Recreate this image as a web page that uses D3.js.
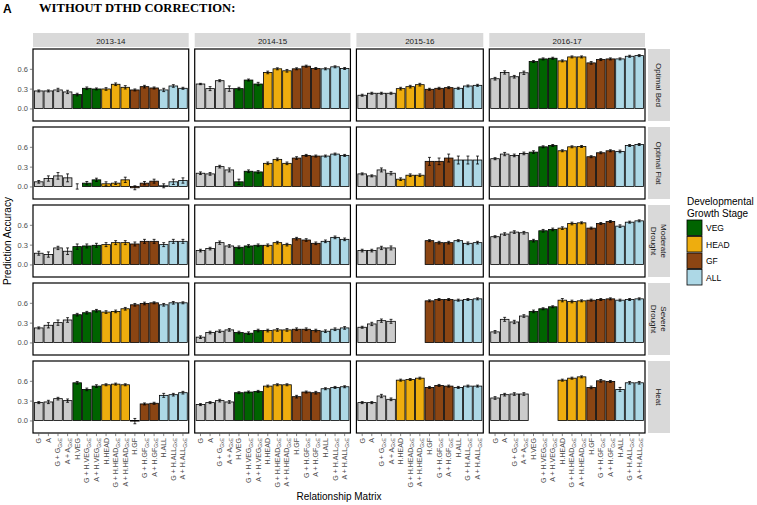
<!DOCTYPE html>
<html><head><meta charset="utf-8">
<script src="https://cdn.jsdelivr.net/npm/d3@7"></script>
<style>body{margin:0;background:#fff} svg{display:block}</style>
</head><body><svg id="c" width="757" height="505"></svg>
<script>
const years = ["2013-14", "2014-15", "2015-16", "2016-17"];
const environments = ["Optimal Bed", "Optimal Flat", "Moderate Drought", "Severe Drought", "Heat"];
const categories = ["G", "A", "G+G", "A+A", "H.VEG", "G+H.VEG", "A+H.VEG", "H.HEAD", "G+H.HEAD", "A+H.HEAD",
  "H.GF", "G+H.GF", "A+H.GF", "H.ALL", "G+H.ALL", "A+H.ALL"];
const labelBase = ["G", "A", "G + G", "A + A", "H.VEG", "G + H.VEG", "A + H.VEG", "H.HEAD", "G + H.HEAD", "A + H.HEAD",
  "H.GF", "G + H.GF", "A + H.GF", "H.ALL", "G + H.ALL", "A + H.ALL"];
const labelSub = ["", "", "GxE", "GxE", "", "GxE", "GxE", "", "GxE", "GxE", "", "GxE", "GxE", "", "GxE", "GxE"];
const catStage = ["BASE", "BASE", "BASE", "BASE", "VEG", "VEG", "VEG", "HEAD", "HEAD", "HEAD", "GF", "GF", "GF", "ALL", "ALL", "ALL"];
const legendStages = ["VEG", "HEAD", "GF", "ALL"];
const stageColors = ["#cccccc", "#006400", "#eead0e", "#8b4513", "#add8e6"];
const stageKeys = ["BASE", "VEG", "HEAD", "GF", "ALL"];
const yTicks = [0.0, 0.3, 0.6];

// Prediction accuracy, one row per year (categories in order above); null = no bar
const bedVals = [
  [0.265, 0.265, 0.28, 0.25, 0.21, 0.305, 0.295, 0.295, 0.366, 0.32, 0.28, 0.33, 0.31, 0.28, 0.34, 0.305],
  [0.37, 0.30, 0.42, 0.30, 0.30, 0.43, 0.37, 0.545, 0.60, 0.57, 0.60, 0.64, 0.605, 0.60, 0.63, 0.605],
  [0.20, 0.23, 0.23, 0.23, null, null, null, 0.30, 0.33, 0.36, 0.29, 0.305, 0.315, 0.305, 0.34, 0.35],
  [0.45, 0.545, 0.48, 0.54, 0.71, 0.75, 0.76, 0.72, 0.78, 0.78, 0.69, 0.74, 0.75, 0.75, 0.79, 0.80]
];
const flatVals = [
  [0.07, 0.12, 0.16, 0.13, 0.0, 0.05, 0.10, 0.04, 0.05, 0.10, -0.02, 0.05, 0.08, 0.01, 0.07, 0.09],
  [0.20, 0.19, 0.30, 0.25, 0.07, 0.23, 0.22, 0.35, 0.41, 0.35, 0.43, 0.47, 0.46, 0.46, 0.49, 0.47],
  [0.19, 0.16, 0.25, 0.20, null, null, null, 0.11, 0.17, 0.17, 0.38, 0.38, 0.43, 0.40, 0.40, 0.40],
  [0.42, 0.49, 0.47, 0.50, 0.52, 0.60, 0.62, 0.54, 0.60, 0.605, 0.45, 0.51, 0.54, 0.53, 0.62, 0.635]
];
const modVals = [
  [0.17, 0.15, 0.25, 0.20, 0.27, 0.28, 0.29, 0.30, 0.33, 0.33, 0.31, 0.35, 0.35, 0.30, 0.35, 0.35],
  [0.21, 0.24, 0.33, 0.28, 0.26, 0.28, 0.29, 0.29, 0.33, 0.30, 0.39, 0.37, 0.32, 0.35, 0.41, 0.38],
  [0.21, 0.21, 0.25, 0.25, null, null, null, null, null, null, 0.36, 0.33, 0.33, 0.36, 0.32, 0.33],
  [0.42, 0.46, 0.49, 0.48, 0.36, 0.51, 0.53, 0.55, 0.62, 0.63, 0.55, 0.62, 0.65, 0.58, 0.64, 0.66]
];
const sevVals = [
  [0.22, 0.26, 0.30, 0.34, 0.42, 0.45, 0.48, 0.46, 0.47, 0.51, 0.57, 0.59, 0.60, 0.57, 0.60, 0.60],
  [0.08, 0.15, 0.17, 0.19, 0.15, 0.14, 0.18, 0.18, 0.19, 0.19, 0.20, 0.20, 0.18, 0.17, 0.20, 0.22],
  [0.23, 0.28, 0.33, 0.32, null, null, null, null, null, null, 0.63, 0.65, 0.65, 0.64, 0.65, 0.66],
  [0.16, 0.35, 0.31, 0.40, 0.47, 0.51, 0.54, 0.64, 0.62, 0.63, 0.64, 0.65, 0.66, 0.64, 0.65, 0.66]
];
const heatVals = [
  [0.27, 0.28, 0.33, 0.30, 0.57, 0.47, 0.52, 0.54, 0.55, 0.54, -0.01, 0.25, 0.26, 0.38, 0.39, 0.42],
  [0.24, 0.27, 0.30, 0.28, 0.42, 0.43, 0.44, 0.52, 0.54, 0.54, 0.36, 0.43, 0.42, 0.48, 0.50, 0.51],
  [0.27, 0.27, 0.37, 0.32, null, null, null, 0.61, 0.62, 0.64, 0.50, 0.53, 0.52, 0.50, 0.52, 0.52],
  [0.34, 0.39, 0.40, 0.40, null, null, null, 0.61, 0.64, 0.66, 0.50, 0.60, 0.59, 0.47, 0.57, 0.57]
];
// standard errors
const bedErr = [
  [0.015, 0.015, 0.025, 0.025, 0.02, 0.02, 0.015, 0.02, 0.02, 0.025, 0.015, 0.02, 0.015, 0.025, 0.02, 0.015],
  [0.01, 0.03, 0.015, 0.04, 0.02, 0.015, 0.025, 0.02, 0.015, 0.02, 0.015, 0.015, 0.015, 0.015, 0.015, 0.015],
  [0.015, 0.015, 0.015, 0.015, null, null, null, 0.02, 0.02, 0.02, 0.015, 0.015, 0.015, 0.015, 0.015, 0.015],
  [0.02, 0.025, 0.02, 0.025, 0.015, 0.015, 0.015, 0.015, 0.015, 0.015, 0.02, 0.015, 0.015, 0.015, 0.015, 0.015]
];
const flatErr = [
  [0.02, 0.04, 0.05, 0.06, 0.04, 0.025, 0.025, 0.03, 0.02, 0.04, 0.03, 0.025, 0.03, 0.03, 0.04, 0.04],
  [0.02, 0.02, 0.02, 0.03, 0.04, 0.02, 0.02, 0.02, 0.02, 0.02, 0.02, 0.015, 0.015, 0.015, 0.015, 0.015],
  [0.015, 0.015, 0.03, 0.025, null, null, null, 0.02, 0.02, 0.02, 0.06, 0.05, 0.06, 0.06, 0.06, 0.06],
  [0.015, 0.025, 0.02, 0.02, 0.02, 0.015, 0.015, 0.015, 0.015, 0.015, 0.015, 0.015, 0.015, 0.02, 0.015, 0.015]
];
const modErr = [
  [0.03, 0.04, 0.025, 0.05, 0.04, 0.03, 0.03, 0.03, 0.03, 0.03, 0.03, 0.03, 0.03, 0.03, 0.03, 0.03],
  [0.02, 0.02, 0.025, 0.02, 0.02, 0.02, 0.02, 0.02, 0.02, 0.02, 0.02, 0.02, 0.02, 0.02, 0.02, 0.02],
  [0.02, 0.02, 0.025, 0.03, null, null, null, null, null, null, 0.015, 0.02, 0.02, 0.015, 0.02, 0.02],
  [0.015, 0.02, 0.02, 0.02, 0.02, 0.02, 0.02, 0.02, 0.02, 0.015, 0.015, 0.015, 0.015, 0.02, 0.015, 0.015]
];
const sevErr = [
  [0.015, 0.04, 0.04, 0.035, 0.02, 0.02, 0.02, 0.02, 0.02, 0.02, 0.02, 0.02, 0.015, 0.02, 0.02, 0.015],
  [0.02, 0.02, 0.02, 0.02, 0.02, 0.02, 0.02, 0.02, 0.02, 0.02, 0.02, 0.02, 0.02, 0.02, 0.02, 0.02],
  [0.015, 0.025, 0.025, 0.03, null, null, null, null, null, null, 0.015, 0.015, 0.015, 0.015, 0.015, 0.015],
  [0.02, 0.03, 0.025, 0.02, 0.02, 0.015, 0.015, 0.025, 0.02, 0.015, 0.015, 0.015, 0.015, 0.015, 0.015, 0.015]
];
const heatErr = [
  [0.015, 0.025, 0.02, 0.025, 0.02, 0.02, 0.02, 0.015, 0.015, 0.015, 0.04, 0.015, 0.015, 0.03, 0.02, 0.02],
  [0.015, 0.015, 0.02, 0.02, 0.015, 0.015, 0.015, 0.015, 0.015, 0.015, 0.02, 0.015, 0.02, 0.015, 0.015, 0.015],
  [0.015, 0.015, 0.025, 0.02, null, null, null, 0.015, 0.015, 0.015, 0.015, 0.015, 0.015, 0.015, 0.015, 0.015],
  [0.02, 0.02, 0.02, 0.02, null, null, null, 0.015, 0.015, 0.015, 0.02, 0.02, 0.015, 0.03, 0.02, 0.02]
];
const allVals = [bedVals, flatVals, modVals, sevVals, heatVals];
const allErrs = [bedErr, flatErr, modErr, sevErr, heatErr];

// ---------- layout ----------
const svg = d3.select("#c");
const FONT = "Liberation Sans, Arial, Helvetica, sans-serif";
const left = 33, right = 645, colGap = 6;
const top0 = 49, panelH = 72, rowGap = 6;

// categories present in each year (free x)
const yearCats = years.map((y, yi) => categories.filter((c, ci) => allVals.some(ev => ev[yi][ci] !== null)));
const totalUnits = d3.sum(yearCats, c => c.length + 0.2);
const unit = (right - left - colGap * (years.length - 1)) / totalUnits;
let xCursor = left;
const xScales = yearCats.map(cats => {
  const w = (cats.length + 0.2) * unit;
  const s = d3.scaleBand().domain(cats).range([xCursor, xCursor + w]).paddingInner(0.1).paddingOuter(0.15);
  xCursor += w + colGap;
  return s;
});
const rowTop = environments.map((e, i) => top0 + i * (panelH + rowGap));
const yScales = rowTop.map(t => d3.scaleLinear().domain([-0.19, 0.90]).range([t + panelH, t]));
const color = d3.scaleOrdinal().domain(stageKeys).range(stageColors);

// title
svg.append("text").attr("x", 3).attr("y", 12.5).attr("font-family", FONT).attr("font-weight", "bold")
  .attr("font-size", 12).attr("fill", "#000").text("A");
svg.append("text").attr("x", 39).attr("y", 11.5).attr("font-family", "Liberation Serif, Times New Roman, serif")
  .attr("font-weight", "bold").attr("font-size", 12.6).attr("fill", "#000").text("WITHOUT DTHD CORRECTION:");

// top strips
years.forEach((yr, yi) => {
  const [a, b] = xScales[yi].range();
  svg.append("rect").attr("x", a).attr("y", 33).attr("width", b - a).attr("height", 14).attr("fill", "#d9d9d9");
  svg.append("text").attr("x", (a + b) / 2).attr("y", 43.5).attr("text-anchor", "middle")
    .attr("font-family", FONT).attr("font-size", 8).attr("fill", "#1a1a1a").text(yr);
});
// right strips
environments.forEach((env, ei) => {
  const t = rowTop[ei];
  svg.append("rect").attr("x", right + 3).attr("y", t).attr("width", 22).attr("height", panelH).attr("fill", "#d9d9d9");
  const lines = env === "Moderate Drought" ? ["Moderate", "Drought"] : env === "Severe Drought" ? ["Severe", "Drought"] : [env];
  const cx = right + 14, cy = t + panelH / 2;
  const tx = svg.append("text").attr("transform", `translate(${cx},${cy}) rotate(90)`)
    .attr("text-anchor", "middle").attr("font-family", FONT).attr("font-size", 8).attr("fill", "#1a1a1a");
  lines.forEach((ln, li) => {
    tx.append("tspan").attr("x", 0).attr("y", (li - (lines.length - 1) / 2) * 9.5 + 3).text(ln);
  });
});

// panels
environments.forEach((env, ei) => {
  const ys = yScales[ei];
  years.forEach((yr, yi) => {
    const xs = xScales[yi];
    const [a, b] = xs.range();
    const g = svg.append("g");
    g.append("rect").attr("x", a).attr("y", rowTop[ei]).attr("width", b - a).attr("height", panelH).attr("fill", "#fff");
    const data = categories.map((c, ci) => ({ c, ci, v: allVals[ei][yi][ci], e: allErrs[ei][yi][ci] }))
      .filter(d => d.v !== null && xs.domain().includes(d.c));
    g.selectAll("rect.bar").data(data).enter().append("rect").attr("class", "bar")
      .attr("x", d => xs(d.c)).attr("width", xs.bandwidth())
      .attr("y", d => ys(Math.max(0, d.v))).attr("height", d => Math.abs(ys(d.v) - ys(0)))
      .attr("fill", d => color(catStage[d.ci])).attr("stroke", "#000").attr("stroke-width", 0.8);
    const cap = xs.step() * 0.15;
    data.forEach(d => {
      const cx = xs(d.c) + xs.bandwidth() / 2;
      const y1 = ys(d.v + d.e), y2 = ys(d.v - d.e);
      g.append("line").attr("x1", cx).attr("x2", cx).attr("y1", y1).attr("y2", y2).attr("stroke", "#000").attr("stroke-width", 0.8);
      [y1, y2].forEach(yy => g.append("line").attr("x1", cx - cap).attr("x2", cx + cap).attr("y1", yy).attr("y2", yy)
        .attr("stroke", "#000").attr("stroke-width", 0.8));
    });
    g.append("rect").attr("x", a).attr("y", rowTop[ei]).attr("width", b - a).attr("height", panelH)
      .attr("fill", "none").attr("stroke", "#000").attr("stroke-width", 1.2);
  });
  // y axis on the first column
  const ax = svg.append("g").attr("transform", `translate(${left - 0.6},0)`)
    .call(d3.axisLeft(ys).tickValues(yTicks).tickFormat(d3.format(".1f")).tickSize(2.5).tickPadding(2));
  ax.select(".domain").remove();
  ax.selectAll("line").attr("stroke", "#333").attr("stroke-width", 0.6);
  ax.selectAll("text").attr("font-family", FONT).attr("font-size", 7.5).attr("fill", "#4d4d4d");
});

// x axes on the bottom row
const bottom = rowTop[environments.length - 1] + panelH;
years.forEach((yr, yi) => {
  const xs = xScales[yi];
  const ax = svg.append("g").attr("transform", `translate(0,${bottom + 0.6})`)
    .call(d3.axisBottom(xs).tickSize(2.5).tickFormat(""));
  ax.select(".domain").remove();
  ax.selectAll("line").attr("stroke", "#333").attr("stroke-width", 0.6);
  xs.domain().forEach(c => {
    const ci = categories.indexOf(c);
    const cx = xs(c) + xs.bandwidth() / 2;
    const t = svg.append("text").attr("transform", `translate(${cx + 2.5},${bottom + 5}) rotate(-90)`)
      .attr("text-anchor", "end").attr("font-family", FONT).attr("font-size", 7).attr("fill", "#4d4d4d");
    t.append("tspan").text(labelBase[ci]);
    if (labelSub[ci]) t.append("tspan").attr("font-size", 5).attr("dy", 1.6).text(labelSub[ci]);
  });
});

// axis titles
svg.append("text").attr("transform", `translate(11,${(top0 + bottom) / 2}) rotate(-90)`).attr("text-anchor", "middle")
  .attr("font-family", FONT).attr("font-size", 10).attr("fill", "#000").text("Prediction Accuracy");
svg.append("text").attr("x", (left + right) / 2).attr("y", 500).attr("text-anchor", "middle")
  .attr("font-family", FONT).attr("font-size", 10).attr("fill", "#000").text("Relationship Matrix");

// legend
const lg = svg.append("g").attr("transform", "translate(687,0)");
lg.append("text").attr("x", 0).attr("y", 205).attr("font-family", FONT).attr("font-size", 10).attr("fill", "#000").text("Developmental");
lg.append("text").attr("x", 0).attr("y", 216.5).attr("font-family", FONT).attr("font-size", 10).attr("fill", "#000").text("Growth Stage");
legendStages.forEach((s, i) => {
  const y = 220 + i * 16.5;
  lg.append("rect").attr("x", 0).attr("y", y).attr("width", 15).attr("height", 15.5)
    .attr("fill", color(s)).attr("stroke", "#000").attr("stroke-width", 0.8);
  lg.append("text").attr("x", 19).attr("y", y + 11).attr("font-family", FONT).attr("font-size", 8.5).attr("fill", "#000").text(s);
});
</script></body></html>
